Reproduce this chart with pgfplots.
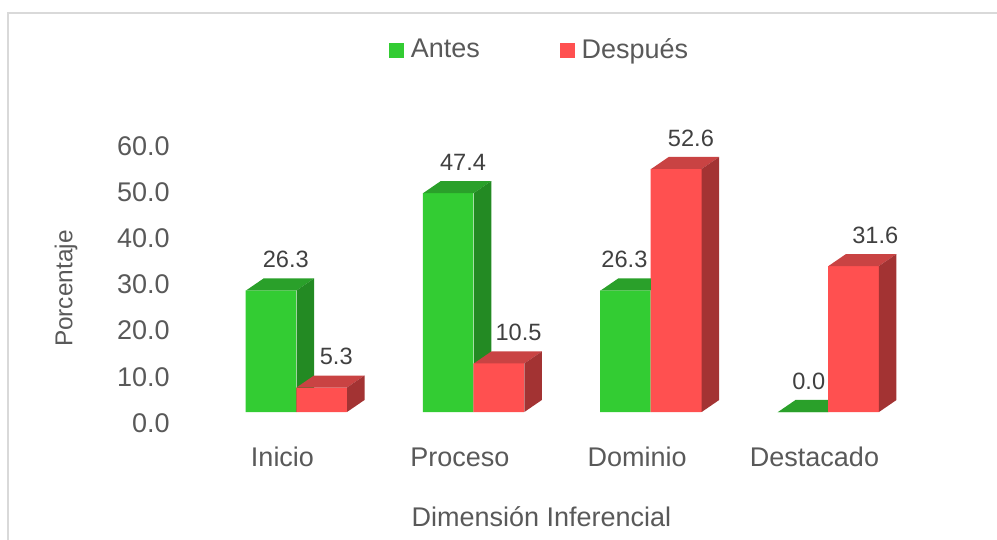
\documentclass[border=0pt]{standalone}
\usepackage{fontspec}
\setmainfont{Liberation Sans}
\usepackage{pgfplots}
\usepackage{pgfplotstable}
\pgfplotsset{compat=1.18}
\definecolor{gfront}{HTML}{33CC33}
\definecolor{gside}{HTML}{238A23}
\definecolor{gtop}{HTML}{2AA02A}
\definecolor{rfront}{HTML}{FF5050}
\definecolor{rside}{HTML}{A33333}
\definecolor{rtop}{HTML}{C94343}
\definecolor{txt}{HTML}{595959}
\definecolor{lbl}{HTML}{404040}
\definecolor{framec}{HTML}{D9D9D9}

\pgfplotstableread{
x v
0 26.3
1 47.4
2 26.3
3 0.0
}\antes
\pgfplotstableread{
x v
0 5.3
1 10.5
2 52.6
3 31.6
}\despues
% horizontal offsets of the value labels (bp), by category index
\def\gofs{((\ci==0)*15+(\ci==1)*15+(\ci==2)*(-1)+(\ci==3)*6)}
\def\rofs{((\ci==0)*15+(\ci==1)*20+(\ci==2)*15+(\ci==3)*22)}

\newcommand{\bigf}{\fontsize{27bp}{30bp}\selectfont}
\newcommand{\lblf}{\fontsize{23.6bp}{26bp}\selectfont}

% top and side faces of a bar, origin = front-top-right corner of the bar
\newcommand{\gfaces}{\tikz[baseline=0pt]{\useasboundingbox (0bp,0bp) rectangle (0bp,0bp);
    \fill[gtop] (-50.5bp,0bp) -- (0bp,0bp) -- (17.5bp,12bp) -- (-33bp,12bp) -- cycle;
    \fill[gside] (0bp,0bp) -- (17.5bp,12bp) -- (17.5bp,12bp-\barv*4.62bp) -- (0bp,-\barv*4.62bp) -- cycle;}}
% front, top and side faces, origin = front-top-left corner of the bar
\newcommand{\rfaces}{\tikz[baseline=0pt]{\useasboundingbox (0bp,0bp) rectangle (0bp,0bp);
    \fill[rfront] (0bp,0bp) rectangle (50.5bp,-\barv*4.62bp);
    \fill[rtop] (0bp,0bp) -- (50.5bp,0bp) -- (68bp,12bp) -- (17.5bp,12bp) -- cycle;
    \fill[rside] (50.5bp,0bp) -- (68bp,12bp) -- (68bp,12bp-\barv*4.62bp) -- (50.5bp,-\barv*4.62bp) -- cycle;}}

\begin{document}
\begin{tikzpicture}
\useasboundingbox (0,0) rectangle (997bp,540bp);
\draw[framec, line width=1.5bp] (8bp,0bp) -- (8bp,527bp) -- (997bp,527bp);
\begin{axis}[
  anchor=origin, at={(296bp,128bp)},
  x=177.33bp, y=4.62bp,
  xmin=-0.7, xmax=3.6, ymin=0, ymax=65,
  clip=false,
  axis line style={draw=none},
  major tick length=0pt,
  ytick={0,10,20,30,40,50,60},
  yticklabel={\pgfmathprintnumber[fixed,fixed zerofill,precision=1,assume math mode=true]{\tick}},
  yticklabel style={anchor=east, inner sep=0pt, xshift=-2bp, yshift=-11bp, font=\bigf, text=txt},
  xtick={0,1,2,3},
  xticklabels={Inicio,Proceso,Dominio,Destacado},
  xticklabel style={anchor=base, inner sep=0pt, xshift=-13.5bp, yshift=-54bp, font=\bigf, text=txt},
  xlabel={Dimensión Inferencial},
  every axis x label/.style={at={(axis cs:1.3844,-24.68)}, anchor=base, font=\bigf, text=txt},
  ylabel={Porcentaje},
  every axis y label/.style={at={(axis cs:-1.297,26.7)}, rotate=90, anchor=center, font=\fontsize{24.4bp}{27bp}\selectfont, text=txt},
  legend columns=2,
  legend style={at={(axis cs:0.5244,78.6)}, anchor=west, draw=none, fill=none, inner sep=0pt,
    nodes={inner sep=0pt, text=txt, font=\bigf},
    /tikz/every odd column/.append style={column sep=6.7bp},
    /tikz/every even column/.append style={column sep=80bp}},
]
% Antes: front faces
\addplot[ybar, bar width=50.5bp, bar shift=-25.25bp, fill=gfront, draw=none,
  legend image code/.code={\fill[gfront] (0bp,-9.5bp) rectangle (15bp,5.5bp);}]
  table[x=x,y=v]{\antes};
\addlegendentry{Antes}
% Antes: top and side faces
\addplot[draw=none, mark=none, forget plot,
  visualization depends on={y \as \barv},
  nodes near coords={\gfaces},
  every node near coord/.append style={anchor=base west, inner sep=0pt, outer sep=0pt}]
  table[x=x,y=v]{\antes};
% Despues: front faces
\addplot[ybar, bar width=50.5bp, bar shift=25.25bp, fill=rfront, draw=none,
  legend image code/.code={\fill[rfront] (0bp,-9.5bp) rectangle (15bp,5.5bp);}]
  table[x=x,y=v]{\despues};
\addlegendentry{Después}
% Despues: front (again, above the green side faces), top and side faces
\addplot[draw=none, mark=none, forget plot,
  visualization depends on={y \as \barv},
  nodes near coords={\rfaces},
  every node near coord/.append style={anchor=base west, inner sep=0pt, outer sep=0pt}]
  table[x=x,y=v]{\despues};
% value labels
\addplot[draw=none, mark=none, forget plot,
  visualization depends on={y \as \barv},
  visualization depends on={\coordindex \as \ci},
  nodes near coords={\pgfmathprintnumber[fixed,fixed zerofill,precision=1,assume math mode=true]{\barv}},
  every node near coord/.append style={anchor=center, font=\lblf, text=lbl, xshift={(\gofs-25.25)*1bp}, yshift=31bp}]
  table[x=x,y=v]{\antes};
\addplot[draw=none, mark=none, forget plot,
  visualization depends on={y \as \barv},
  visualization depends on={\coordindex \as \ci},
  nodes near coords={\pgfmathprintnumber[fixed,fixed zerofill,precision=1,assume math mode=true]{\barv}},
  every node near coord/.append style={anchor=center, font=\lblf, text=lbl, xshift={(\rofs+25.25)*1bp}, yshift=31bp}]
  table[x=x,y=v]{\despues};
\end{axis}
\end{tikzpicture}
\end{document}
